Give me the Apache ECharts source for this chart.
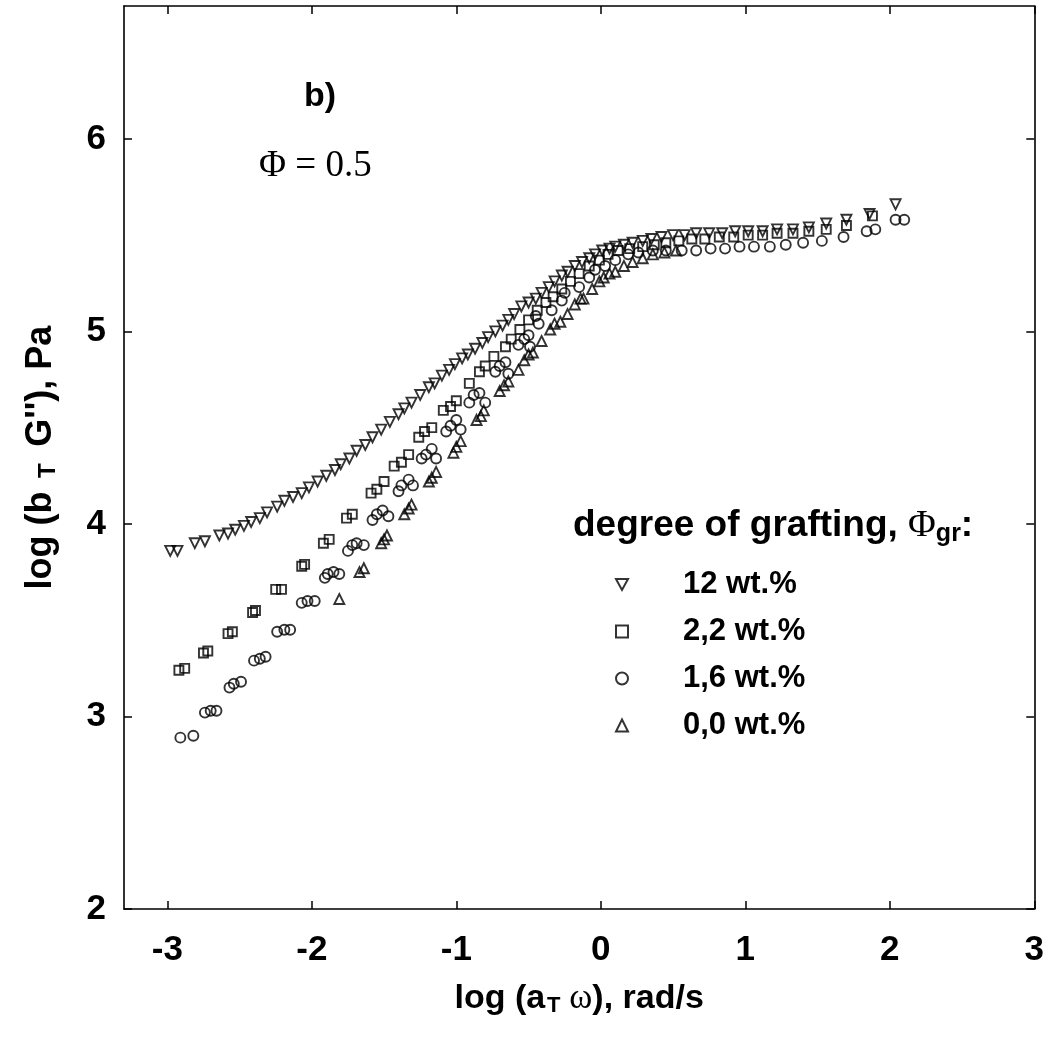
<!DOCTYPE html>
<html>
<head>
<meta charset="utf-8">
<script src="https://cdn.jsdelivr.net/npm/echarts@6/dist/echarts.min.js"></script>
<style>html,body{margin:0;padding:0;background:#fff}#c{width:1047px;height:1044px}</style>
</head>
<body>
<div id="c"></div>
<script>
// ---- data (log aT·ω , log bT·G'') ----
const seriesNames = ['12 wt.%', '2,2 wt.%', '1,6 wt.%', '0,0 wt.%'];
const xTicks = [-3, -2, -1, 0, 1, 2, 3];
const yTicks = [2, 3, 4, 5, 6];

const x12 = [-2.98,-2.93,-2.81,-2.74,-2.64,-2.58,-2.53,-2.47,-2.42,-2.36,-2.31,-2.24,-2.19,-2.13,-2.07,-2.02,-1.96,-1.90,-1.84,-1.80,-1.74,-1.69,-1.63,-1.58,-1.52,-1.46,-1.40,-1.36,-1.31,-1.25,-1.19,-1.15,-1.10,-1.05,-1.01,-0.96,-0.92,-0.87,-0.82,-0.78,-0.73,-0.68,-0.64,-0.60,-0.55,-0.50,-0.45,-0.41,-0.36,-0.32,-0.27,-0.23,-0.18,-0.13,-0.08,-0.04,0.01,0.06,0.10,0.16,0.22,0.29,0.35,0.42,0.50,0.58,0.66,0.75,0.84,0.93,1.02,1.12,1.22,1.33,1.44,1.56,1.70,1.86,2.04];
const y12 = [3.86,3.86,3.90,3.91,3.94,3.95,3.97,3.99,4.01,4.03,4.06,4.09,4.12,4.14,4.16,4.19,4.22,4.25,4.28,4.31,4.34,4.38,4.41,4.45,4.49,4.53,4.57,4.60,4.63,4.67,4.71,4.73,4.77,4.80,4.83,4.86,4.88,4.91,4.94,4.97,5.00,5.03,5.06,5.09,5.13,5.15,5.17,5.20,5.23,5.26,5.29,5.31,5.34,5.36,5.38,5.40,5.42,5.43,5.44,5.45,5.46,5.47,5.48,5.49,5.50,5.50,5.51,5.51,5.51,5.52,5.52,5.52,5.53,5.53,5.54,5.56,5.58,5.61,5.66];

const x22 = [-2.92,-2.88,-2.75,-2.72,-2.58,-2.55,-2.41,-2.39,-2.25,-2.21,-2.07,-2.05,-1.92,-1.88,-1.76,-1.72,-1.59,-1.55,-1.50,-1.43,-1.38,-1.33,-1.26,-1.22,-1.17,-1.09,-1.04,-1.00,-0.91,-0.84,-0.80,-0.74,-0.66,-0.62,-0.56,-0.50,-0.44,-0.38,-0.33,-0.27,-0.21,-0.15,-0.08,-0.01,0.05,0.12,0.20,0.29,0.37,0.45,0.54,0.63,0.72,0.82,0.92,1.02,1.12,1.22,1.33,1.44,1.56,1.70,1.88];
const y22 = [3.24,3.25,3.33,3.34,3.43,3.44,3.54,3.55,3.66,3.66,3.78,3.79,3.90,3.92,4.03,4.05,4.16,4.18,4.22,4.30,4.32,4.36,4.45,4.48,4.50,4.59,4.61,4.64,4.73,4.79,4.82,4.87,4.92,4.96,5.01,5.06,5.11,5.15,5.18,5.22,5.26,5.30,5.34,5.37,5.40,5.42,5.43,5.44,5.45,5.46,5.47,5.48,5.48,5.49,5.49,5.50,5.50,5.51,5.51,5.52,5.53,5.55,5.60];

const x16 = [-2.91,-2.82,-2.74,-2.70,-2.66,-2.57,-2.54,-2.49,-2.40,-2.36,-2.32,-2.24,-2.19,-2.15,-2.07,-2.03,-1.98,-1.91,-1.89,-1.85,-1.81,-1.75,-1.72,-1.69,-1.64,-1.58,-1.55,-1.51,-1.47,-1.40,-1.38,-1.33,-1.30,-1.24,-1.21,-1.17,-1.14,-1.07,-1.04,-1.00,-0.97,-0.91,-0.88,-0.84,-0.80,-0.73,-0.70,-0.66,-0.64,-0.57,-0.53,-0.50,-0.49,-0.45,-0.43,-0.34,-0.27,-0.25,-0.15,-0.08,-0.04,0.03,0.10,0.19,0.26,0.36,0.45,0.56,0.66,0.76,0.86,0.96,1.06,1.17,1.28,1.40,1.53,1.68,1.84,1.90,2.04,2.10];
const y16 = [2.89,2.90,3.02,3.03,3.03,3.15,3.17,3.18,3.29,3.30,3.31,3.44,3.45,3.45,3.59,3.60,3.60,3.72,3.74,3.75,3.74,3.86,3.89,3.90,3.89,4.02,4.05,4.07,4.04,4.17,4.20,4.23,4.20,4.34,4.36,4.39,4.34,4.48,4.51,4.54,4.49,4.63,4.67,4.68,4.63,4.79,4.82,4.84,4.78,4.93,4.96,4.98,4.92,5.08,5.04,5.11,5.16,5.20,5.23,5.28,5.32,5.34,5.37,5.40,5.41,5.42,5.42,5.42,5.42,5.43,5.43,5.44,5.44,5.44,5.45,5.46,5.47,5.49,5.52,5.53,5.58,5.58];

const x00 = [-1.81,-1.67,-1.64,-1.52,-1.50,-1.48,-1.36,-1.33,-1.31,-1.19,-1.17,-1.14,-1.02,-1.00,-0.97,-0.86,-0.83,-0.81,-0.70,-0.67,-0.64,-0.57,-0.53,-0.50,-0.47,-0.41,-0.35,-0.32,-0.28,-0.23,-0.18,-0.14,-0.12,-0.06,-0.01,0.02,0.06,0.10,0.16,0.22,0.29,0.36,0.44,0.52];
const y00 = [3.61,3.75,3.77,3.90,3.92,3.94,4.05,4.08,4.10,4.22,4.24,4.27,4.37,4.40,4.43,4.54,4.56,4.59,4.69,4.72,4.74,4.80,4.85,4.88,4.89,4.95,5.01,5.04,5.05,5.09,5.14,5.17,5.17,5.22,5.26,5.28,5.30,5.31,5.34,5.36,5.38,5.40,5.41,5.42];

const pairs = (xs, ys) => xs.map((x, i) => [x, ys[i]]);
const SANS = "'Liberation Sans', Arial, sans-serif";
const SERIF = "'Liberation Serif', 'Times New Roman', serif";
const TRI_DOWN = 'path://M0,0 L10,0 L5,9 Z';

const markerStyle = { color: 'rgba(0,0,0,0)', borderColor: '#000', borderWidth: 1.9 };
function sc(name, data, symbol, size, rot) {
  return { type: 'scatter', name, data, symbol, symbolSize: size, symbolRotate: rot || 0,
    itemStyle: markerStyle, xAxisIndex: 0, yAxisIndex: 0, animation: false };
}

const axisLineStyle = { show: true, onZero: false, lineStyle: { color: '#000', width: 1.6 } };
const tickStyle = (vals) => ({ show: true, inside: true, length: 8, customValues: vals, lineStyle: { color: '#000', width: 1.5 } });

const chart = echarts.init(document.getElementById('c'), null, { renderer: 'canvas' });
chart.setOption({
  backgroundColor: '#fff',
  animation: false,
  grid: { left: 124, right: 10, top: 6, bottom: 135 },
  xAxis: [
    { type: 'value', min: -3.3, max: 3, position: 'bottom',
      axisLine: axisLineStyle, axisTick: tickStyle(xTicks), splitLine: { show: false },
      axisLabel: { customValues: xTicks, margin: 24, fontSize: 35, fontWeight: 'bold', color: '#000', fontFamily: SANS },
      name: '{n|log (a}{s|T}{w| ω}{n|), rad/s}', nameLocation: 'middle', nameGap: 72,
      nameTextStyle: { color: '#000', fontFamily: SANS, fontSize: 35,
        rich: { n: { fontSize: 34, fontWeight: 'bold', fontFamily: SANS, color: '#000' },
                s: { fontSize: 22, fontWeight: 'bold', fontFamily: SANS, color: '#000', padding: [14, 0, 0, 2] },
                w: { fontSize: 35, fontFamily: SERIF, color: '#000' } } } },
    { type: 'value', min: -3.3, max: 3, position: 'top',
      axisLine: axisLineStyle, axisTick: tickStyle(xTicks), splitLine: { show: false },
      axisLabel: { show: false } }
  ],
  yAxis: [
    { type: 'value', min: 2, max: 6.69, position: 'left',
      axisLine: axisLineStyle, axisTick: tickStyle(yTicks), splitLine: { show: false },
      axisLabel: { customValues: yTicks, margin: 18, fontSize: 35, fontWeight: 'bold', color: '#000', fontFamily: SANS },
      name: "{n|log (b}{s|  T }{n| G''), Pa}", nameLocation: 'middle', nameRotate: 90, nameGap: 64,
      nameTextStyle: { color: '#000', fontFamily: SANS, fontSize: 36,
        rich: { n: { fontSize: 36, fontWeight: 'bold', fontFamily: SANS, color: '#000' },
                s: { fontSize: 24, fontWeight: 'bold', fontFamily: SANS, color: '#000', padding: [14, 0, 0, 0] } } } },
    { type: 'value', min: 2, max: 6.69, position: 'right',
      axisLine: axisLineStyle, axisTick: tickStyle(yTicks), splitLine: { show: false },
      axisLabel: { show: false } }
  ],
  legend: {
    orient: 'vertical', left: 610, top: 564, itemWidth: 12, itemHeight: 12, itemGap: 16,
    data: [
      { name: seriesNames[0], icon: TRI_DOWN },
      { name: seriesNames[1] },
      { name: seriesNames[2] },
      { name: seriesNames[3] }
    ],
    textStyle: { fontSize: 31, fontWeight: 'bold', color: '#000', fontFamily: SANS, padding: [0, 0, 0, 50] }
  },
  series: [
    sc(seriesNames[0], pairs(x12, y12), 'triangle', 10, 180),
    sc(seriesNames[1], pairs(x22, y22), 'rect', 9),
    sc(seriesNames[2], pairs(x16, y16), 'circle', 10),
    sc(seriesNames[3], pairs(x00, y00), 'triangle', 10)
  ],
  graphic: [
    { type: 'text', left: 304, top: 80, silent: true,
      style: { text: 'b)', fontSize: 34, fontWeight: 'bold', fontFamily: SANS, fill: '#000' } },
    { type: 'text', left: 259, top: 148, silent: true,
      style: { text: 'Φ = 0.5', fontSize: 37, fontFamily: SERIF, fill: '#000' } },
    { type: 'text', left: 573, top: 507, silent: true,
      style: { text: '{n|degree of grafting, }{p|Φ}{s|gr}{n|:}',
        rich: { n: { fontSize: 37, fontWeight: 'bold', fontFamily: SANS, fill: '#000' },
                p: { fontSize: 38, fontFamily: SERIF, fill: '#000' },
                s: { fontSize: 25, fontWeight: 'bold', fontFamily: SANS, fill: '#000', padding: [16, 0, 0, 0] } } } }
  ]
});
</script>
</body>
</html>
